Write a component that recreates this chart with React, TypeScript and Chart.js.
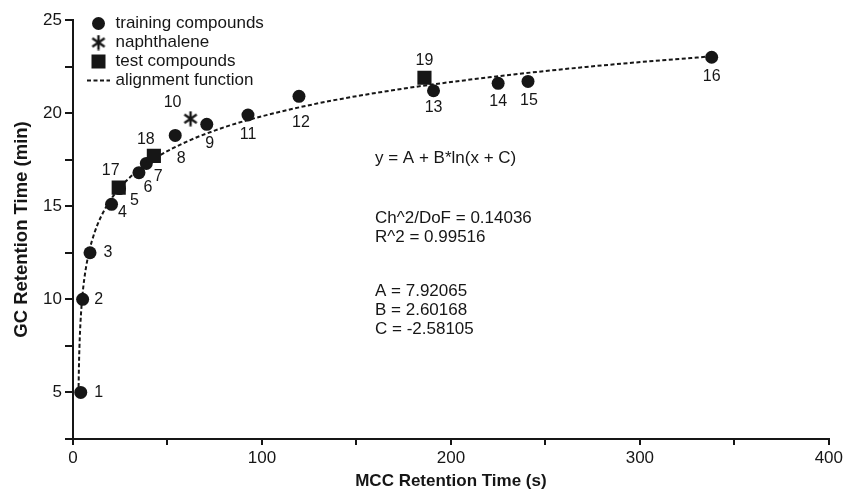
import React, { useEffect, useRef } from 'react';
import { Chart, registerables } from 'chart.js';

Chart.register(...registerables);

// ---- data ----
const trainingIds = [1, 2, 3, 4, 5, 6, 7, 8, 9, 11, 12, 13, 14, 15, 16];
const trainingX = [4.1, 5.1, 9.0, 20.4, 24.6, 34.9, 38.8, 54.1, 70.8, 92.6, 119.6, 190.8, 225.0, 240.8, 338.0];
const trainingY = [5.0, 10.0, 12.5, 15.1, 15.95, 16.8, 17.3, 18.8, 19.4, 19.9, 20.9, 21.2, 21.6, 21.7, 23.0];

const naphthaleneIds = [10];
const naphthaleneX = [62.2];
const naphthaleneY = [19.7];

const testIds = [17, 18, 19];
const testX = [24.2, 42.8, 186.0];
const testY = [16.0, 17.7, 21.9];

const curveX = [2.9, 3.2, 3.6, 4.2, 5, 6, 8, 10, 13, 17, 22, 28, 35, 45, 60, 80, 100, 130, 170, 220, 280, 338];
const curveY = [4.95, 6.67, 7.97, 9.17, 10.22, 11.12, 12.32, 13.13, 14.02, 14.86, 15.64, 16.34, 16.97, 17.67, 18.46, 19.24, 19.83, 20.53, 21.24, 21.92, 22.56, 23.05];

const xTickLabels = [0, 100, 200, 300, 400];
const yTickLabels = [5, 10, 15, 20, 25];

const legendLabels = ['training compounds', 'naphthalene', 'test compounds', 'alignment function'];
const fitLines = ['y = A + B*ln(x + C)', 'Ch^2/DoF = 0.14036', 'R^2 = 0.99516', 'A = 7.92065', 'B = 2.60168', 'C = -2.58105'];

// ---- layout / style (not data) ----
const FONT = '"Liberation Sans", Arial, Helvetica, sans-serif';
const INK = '#161616';
const labelOffsets: Record<number, [number, number]> = {
  1: [18, 0], 2: [16, 0], 3: [18, 0], 4: [11, 8], 5: [15, 12], 6: [9, 15], 7: [12, 13],
  8: [6, 23], 9: [3, 19], 10: [-18, -16], 11: [0, 20], 12: [2, 26], 13: [0, 17],
  14: [0, 18], 15: [1, 19], 16: [0, 19], 17: [-8, -17], 18: [-8, -16], 19: [0, -17],
};
const fitLineDy = [138, 198, 217, 271, 290, 309];

function makeAsterisk(): HTMLCanvasElement {
  const size = 16;
  const c = document.createElement('canvas');
  c.width = size;
  c.height = size;
  const g = c.getContext('2d')!;
  g.strokeStyle = INK;
  g.lineWidth = 2.4;
  const r = size / 2 - 0.5;
  const cx = size / 2;
  const cy = size / 2;
  [90, 35, 145].forEach((a) => {
    const rad = (a * Math.PI) / 180;
    g.beginPath();
    g.moveTo(cx - r * Math.cos(rad), cy - r * Math.sin(rad));
    g.lineTo(cx + r * Math.cos(rad), cy + r * Math.sin(rad));
    g.stroke();
  });
  return c;
}

export default function App() {
  const ref = useRef<HTMLCanvasElement>(null);

  useEffect(() => {
    const canvas = ref.current;
    if (!canvas) return;
    const asterisk = makeAsterisk();

    const pointLabels = {
      id: 'pointLabels',
      afterDatasetsDraw(chart: any) {
        const ctx = chart.ctx;
        ctx.save();
        ctx.font = `16px ${FONT}`;
        ctx.fillStyle = INK;
        ctx.textAlign = 'center';
        ctx.textBaseline = 'middle';
        chart.data.datasets.forEach((ds: any, di: number) => {
          const ids: number[] | undefined = ds.pointIds;
          if (!ids) return;
          const meta = chart.getDatasetMeta(di);
          meta.data.forEach((el: any, i: number) => {
            const id = ids[i];
            const off = labelOffsets[id] || [0, 18];
            ctx.fillText(String(id), el.x + off[0], el.y + off[1]);
          });
        });
        ctx.restore();
      },
    };

    const annotations = {
      id: 'annotations',
      afterDraw(chart: any) {
        const ctx = chart.ctx;
        const { left, top } = chart.chartArea;
        ctx.save();
        ctx.fillStyle = INK;
        ctx.strokeStyle = INK;
        ctx.textBaseline = 'middle';
        ctx.textAlign = 'left';
        ctx.font = `17px ${FONT}`;
        // legend
        legendLabels.forEach((lab, i) => {
          const y = top + 3.5 + 19 * i;
          const mx = left + 25.5;
          if (i === 0) {
            ctx.beginPath();
            ctx.arc(mx, y, 6.5, 0, Math.PI * 2);
            ctx.fill();
          } else if (i === 1) {
            ctx.drawImage(asterisk, mx - asterisk.width / 2, y - asterisk.height / 2);
          } else if (i === 2) {
            ctx.fillRect(mx - 7, y - 7, 14, 14);
          } else {
            ctx.save();
            ctx.lineWidth = 2;
            ctx.setLineDash([4, 2.5]);
            ctx.beginPath();
            ctx.moveTo(left + 14, y);
            ctx.lineTo(left + 37, y);
            ctx.stroke();
            ctx.restore();
          }
          ctx.fillText(lab, left + 42.5, y);
        });
        // fit text
        fitLines.forEach((t, i) => {
          ctx.fillText(t, left + 302, top + fitLineDy[i]);
        });
        ctx.restore();
      },
    };

    const chart = new Chart(canvas, {
      type: 'scatter',
      data: {
        datasets: [
          {
            label: legendLabels[0],
            data: trainingX.map((x, i) => ({ x, y: trainingY[i] })),
            pointStyle: 'circle',
            pointRadius: 6.5,
            backgroundColor: INK,
            borderColor: INK,
            borderWidth: 0,
            order: 3,
            pointIds: trainingIds,
          } as any,
          {
            label: legendLabels[1],
            data: naphthaleneX.map((x, i) => ({ x, y: naphthaleneY[i] })),
            pointStyle: asterisk,
            pointRadius: 8,
            order: 2,
            pointIds: naphthaleneIds,
          } as any,
          {
            label: legendLabels[2],
            data: testX.map((x, i) => ({ x, y: testY[i] })),
            pointStyle: 'rect',
            pointRadius: 10,
            backgroundColor: INK,
            borderColor: INK,
            borderWidth: 0,
            order: 1,
            pointIds: testIds,
          } as any,
          {
            label: legendLabels[3],
            data: curveX.map((x, i) => ({ x, y: curveY[i] })),
            showLine: true,
            pointRadius: 0,
            borderColor: INK,
            borderWidth: 2,
            borderDash: [4, 2.5],
            cubicInterpolationMode: 'monotone',
            fill: false,
            order: 5,
          } as any,
        ],
      },
      options: {
        responsive: false,
        animation: false,
        events: [],
        layout: { padding: { top: 20, right: 17, left: 0, bottom: 0 } },
        plugins: {
          legend: { display: false },
          tooltip: { enabled: false },
        },
        scales: {
          x: {
            type: 'linear',
            min: 0,
            max: 400,
            afterFit: (s: any) => { s.height = 51; },
            ticks: {
              stepSize: 50,
              autoSkip: false,
              maxRotation: 0,
              padding: 3,
              color: INK,
              font: { size: 17, family: FONT },
              callback: (v: any) => (xTickLabels.includes(Number(v)) ? String(v) : ''),
            },
            grid: { drawOnChartArea: false, drawTicks: true, tickLength: 6, color: INK, lineWidth: 2 },
            border: { display: true, color: INK, width: 2 },
            title: {
              display: true,
              text: 'MCC Retention Time (s)',
              color: INK,
              font: { size: 17, weight: 'bold', family: FONT },
              padding: { top: 0, bottom: -2 },
            },
          },
          y: {
            type: 'linear',
            min: 2.5,
            max: 25,
            afterFit: (s: any) => { s.width = 73; },
            ticks: {
              stepSize: 2.5,
              autoSkip: false,
              padding: 3,
              color: INK,
              font: { size: 17, family: FONT },
              callback: (v: any) => (yTickLabels.includes(Number(v)) ? String(v) : ''),
            },
            grid: { drawOnChartArea: false, drawTicks: true, tickLength: 8, color: INK, lineWidth: 2 },
            border: { display: true, color: INK, width: 2 },
            title: {
              display: true,
              text: 'GC Retention Time (min)',
              color: INK,
              font: { size: 18.5, weight: 'bold', family: FONT },
              padding: { top: 11, bottom: 0 },
            },
          },
        },
      } as any,
      plugins: [pointLabels, annotations],
    });

    return () => chart.destroy();
  }, []);

  return (
    <canvas
      ref={ref}
      width={846}
      height={490}
      style={{ display: 'block', position: 'absolute', left: 0, top: 0 }}
    />
  );
}
